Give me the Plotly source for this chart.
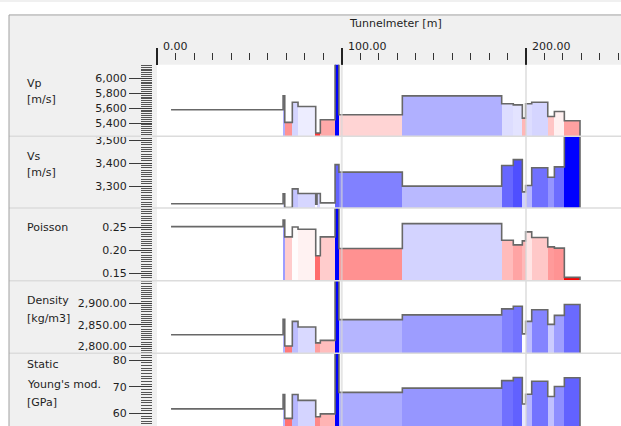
import plotly.graph_objects as go

W, H = 621, 426

# ---- data (tunnel meter segment boundaries and values per segment) ----
BOUNDS = [7.4, 68.2, 69.1, 73.2, 76.3, 85.9, 86.6, 88.4, 96.4, 98.5,
          132.9, 186.8, 193.1, 198.0, 199.8, 203.1, 211.8, 215.4, 220.8, 229.3]

VP = [5580, 5765, 5410, 5680, 5623, 5267, 5267, 5445, 6400, 5512,
      5765, 5659, 5645, 5467, 5659, 5680, 5489, 5556, 5432]
VS = [3223, 3267, 3206, 3288, 3268, 3221, 3268, 3227, 3394, 3361,
      3300, 3390, 3416, 3275, 3303, 3380, 3339, 3384, 3600]
POISSON = [0.2522, 0.2667, 0.2298, 0.2515, 0.2465, 0.1885, 0.1885, 0.2298, 0.32, 0.2043,
           0.2587, 0.2226, 0.2124, 0.2211, 0.2407, 0.2283, 0.2080, 0.2052, 0.1413]
DENSITY = [2827, 2863, 2801, 2858, 2845, 2808, 2808, 2814, 2990, 2862,
           2873, 2887, 2893, 2829, 2858, 2885, 2851, 2872, 2897]
YOUNG = [61.7, 67.1, 58.1, 67.1, 64.9, 58.7, 58.7, 59.8, 90.0, 67.9,
         69.5, 72.35, 73.5, 63.5, 67.2, 72.1, 66.35, 70.1, 73.4]

TICKS_VP = [5400, 5600, 5800, 6000]
TICKS_VS = [3300, 3400, 3500]
TICKS_POISSON = [0.15, 0.20, 0.25]
TICKS_DENSITY = [2800, 2850, 2900]
TICKS_YOUNG = [60, 70, 80]

X_MAJOR = [0, 100, 200]
X_TITLE = "Tunnelmeter [m]"

# ---- helpers ----
def fx(px):
    return px / W


def fy(py):
    return (H - py) / H


FONT = dict(family="DejaVu Sans", size=11, color="#1e1e1e")

PANELS = [
    dict(vals=VP, ticks=TICKS_VP, fmt=",d", minor=25, top=63, bottom=135,
         rng=[5222.7, 6182.7], cmin=5180, ref=5580, cmax=6180,
         labels=[("Vp", 81.7), ("[m/s]", 98.3)]),
    dict(vals=VS, ticks=TICKS_VS, fmt=",d", minor=10, top=135, bottom=207,
         rng=[3204.3, 3517.4], cmin=2943, ref=3223, cmax=3503,
         labels=[("Vs", 155), ("[m/s]", 171)]),
    dict(vals=POISSON, ticks=TICKS_POISSON, fmt=".2f", minor=0.005, top=207, bottom=280,
         rng=[0.13413, 0.29283], cmin=0.141, ref=0.2522, cmax=0.290,
         labels=[("Poisson", 226.7)]),
    dict(vals=DENSITY, ticks=TICKS_DENSITY, fmt=",.2f", minor=5, top=280, bottom=353,
         rng=[2783.8, 2952.4], cmin=2777, ref=2827, cmax=2947,
         labels=[("Density", 300), ("[kg/m3]", 318.3)]),
    dict(vals=YOUNG, ticks=TICKS_YOUNG, fmt="d", minor=1, top=353, bottom=426,
         rng=[55.23, 82.63], cmin=55.2, ref=61.7, cmax=80.7,
         labels=[("Static", 364), ("Young's mod.", 384), ("[GPa]", 402)]),
]

mids = [(BOUNDS[i] + BOUNDS[i + 1]) / 2 for i in range(len(BOUNDS) - 1)]
widths = [BOUNDS[i + 1] - BOUNDS[i] for i in range(len(BOUNDS) - 1)]

fig = go.Figure()
layout = {}
annotations = []
shapes = []

for i, p in enumerate(PANELS):
    yname = "y" if i == 0 else f"y{i + 1}"
    ykey = "yaxis" if i == 0 else f"yaxis{i + 1}"
    mid = (p["ref"] - p["cmin"]) / (p["cmax"] - p["cmin"])
    cscale = [[0, "#ff0000"], [mid, "#ffffff"], [1, "#0000ff"]]
    vals = p["vals"]
    fig.add_trace(go.Bar(
        x=mids, y=vals, width=widths, xaxis="x", yaxis=yname,
        marker=dict(color=vals, colorscale=cscale, cmin=p["cmin"], cmax=p["cmax"],
                    line=dict(width=0)),
        hoverinfo="skip", showlegend=False,
    ))
    xs = list(BOUNDS[:-1]) + [BOUNDS[-1], BOUNDS[-1]]
    ys = list(vals) + [vals[-1], 0]
    fig.add_trace(go.Scatter(
        x=xs, y=ys, mode="lines", xaxis="x", yaxis=yname,
        line=dict(shape="hv", color="#686868", width=1.6),
        hoverinfo="skip", showlegend=False,
    ))
    layout[ykey] = dict(
        domain=[fy(p["bottom"]), fy(p["top"])], range=p["rng"],
        anchor="free", position=fx(152), side="left",
        tickmode="array", tickvals=p["ticks"], tickformat=p["fmt"],
        ticks="outside", ticklen=23, tickwidth=1, tickcolor="#3a3a3a",
        minor=dict(tickmode="linear", tick0=p["ticks"][0], dtick=p["minor"],
                   ticks="outside", ticklen=11, tickwidth=1, tickcolor="#555555",
                   showgrid=False),
        showgrid=False, zeroline=False, showline=False,
        tickfont=FONT, fixedrange=True,
    )
    for text, yy in p["labels"]:
        annotations.append(dict(text=text, xref="paper", yref="paper",
                                x=fx(25), y=fy(yy), xanchor="left", yanchor="middle",
                                showarrow=False, font=FONT, align="left"))

# dummy trace to register the major-tick overlay axis
fig.add_trace(go.Scatter(x=[None], y=[None], xaxis="x6", yaxis="y",
                         mode="lines", hoverinfo="skip", showlegend=False))

XRANGE = [-0.22, 251.54]
layout["xaxis"] = dict(
    domain=[fx(157), 1], range=XRANGE, anchor="free", position=fy(58.5), side="top",
    tickmode="linear", tick0=0, dtick=10, ticks="outside", ticklen=7,
    tickwidth=1, tickcolor="#333333", showticklabels=False,
    showgrid=False, zeroline=False, showline=False, fixedrange=True,
)
layout["xaxis6"] = dict(
    overlaying="x", range=XRANGE, anchor="free", position=fy(63), side="top",
    tickmode="array", tickvals=X_MAJOR, ticks="outside", ticklen=17,
    tickwidth=1.5, tickcolor="#222222", showticklabels=False,
    showgrid=False, zeroline=False, showline=False, fixedrange=True,
)

# x tick labels (left-aligned next to the tick) and axis title
for v in X_MAJOR:
    annotations.append(dict(text=f"{v:.2f}", xref="x", yref="paper", x=v, y=fy(45),
                            xanchor="left", yanchor="middle", xshift=4,
                            showarrow=False, font=FONT))
annotations.append(dict(text=X_TITLE, xref="paper", yref="paper", x=fx(396), y=fy(22),
                        xanchor="center", yanchor="middle", showarrow=False, font=FONT))

# vertical grid lines at major ticks (drawn over the fills, semi-transparent)
for v in X_MAJOR[1:]:
    shapes.append(dict(type="line", xref="x", yref="paper", x0=v, x1=v, y0=0, y1=fy(63),
                       line=dict(color="rgba(215,215,215,0.65)", width=2), layer="above"))

# panel separators
for p in PANELS[:-1]:
    shapes.append(dict(type="line", xref="paper", yref="paper", x0=fx(9), x1=1,
                       y0=fy(p["bottom"]), y1=fy(p["bottom"]),
                       line=dict(color="#dcdcdc", width=1.5), layer="above"))

# outer white margins and frame
shapes.append(dict(type="rect", xref="paper", yref="paper", x0=0, x1=fx(9), y0=0, y1=1,
                   fillcolor="white", line=dict(width=0), layer="above"))
shapes.append(dict(type="rect", xref="paper", yref="paper", x0=0, x1=1, y0=fy(13), y1=1,
                   fillcolor="white", line=dict(width=0), layer="above"))
shapes.append(dict(type="line", xref="paper", yref="paper", x0=fx(9), x1=fx(9),
                   y0=0, y1=fy(13), line=dict(color="#a0a0a0", width=1), layer="above"))
shapes.append(dict(type="line", xref="paper", yref="paper", x0=fx(9), x1=1,
                   y0=fy(13), y1=fy(13), line=dict(color="#a0a0a0", width=1), layer="above"))

fig.update_layout(
    width=W, height=H, margin=dict(l=0, r=0, t=0, b=0),
    paper_bgcolor="#f0f0f0", plot_bgcolor="white",
    barmode="overlay", bargap=0, showlegend=False, hovermode=False,
    font=FONT, annotations=annotations, shapes=shapes,
    **layout,
)

fig.write_html("out.html", config=dict(displayModeBar=False),
               post_script="document.body.style.margin='0';document.body.style.overflow='hidden';")
